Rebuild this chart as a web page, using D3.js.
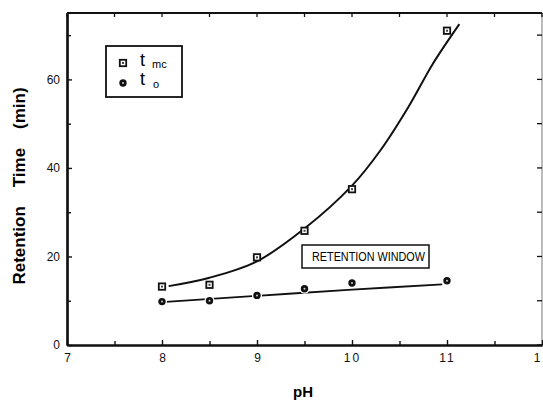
<!DOCTYPE html>
<html>
<head>
<meta charset="utf-8">
<script src="https://cdn.jsdelivr.net/npm/d3@7"></script>
<style>
  body { margin: 0; background: #fff; }
  svg { font-family: "Liberation Sans", Arial, sans-serif; }
</style>
</head>
<body>
<div id="chart"></div>
<script>
// measured points
const pH = [8.0, 8.5, 9.0, 9.5, 10.0, 11.0];
const tmc = [13.2, 13.6, 19.8, 25.8, 35.2, 71.0];
const t0 = [9.8, 10.0, 11.2, 12.7, 14.0, 14.5];

// hand-drawn fit curves
const tmcFitPH = [8.07, 8.5, 9.0, 9.5, 10.0, 10.3, 10.6, 10.85, 11.13];
const tmcFitTime = [13.3, 15.2, 18.9, 26.3, 36.0, 44.0, 54.0, 63.5, 72.5];
const t0FitPH = [8.0, 9.0, 10.0, 10.95];
const t0FitTime = [9.7, 11.1, 12.5, 13.7];

const xTicks = [7, 8, 9, 10, 11, 12];
const yTicks = [0, 20, 40, 60];
const xMinor = [7.5, 8.5, 9.5, 10.5, 11.5];
const yMinor = [10, 30, 50, 70];

// ---------------------------------------
// svg params
const W = 543, H = 401;
const svg = d3.select("#chart").append("svg")
    .attr("width", W)
    .attr("height", H);

const x = d3.scaleLinear().domain([7, 12]).range([67, 542]);
const y = d3.scaleLinear().domain([0, 75]).range([345, 13]);

// frame: top and right edges
svg.append("line")
    .attr("x1", x(7)).attr("x2", x(12))
    .attr("y1", y(75)).attr("y2", y(75))
    .attr("stroke", "#111").attr("stroke-width", 1.8);
svg.append("line")
    .attr("x1", x(12)).attr("x2", x(12))
    .attr("y1", y(75)).attr("y2", y(0))
    .attr("stroke", "#777").attr("stroke-width", 1);

// top / right inward ticks
svg.selectAll(".ttick")
    .data(xTicks.concat(xMinor))
    .enter().append("line")
    .attr("x1", (d) => x(d)).attr("x2", (d) => x(d))
    .attr("y1", y(75)).attr("y2", y(75) + 4)
    .attr("stroke", "#111").attr("stroke-width", 1.3);
svg.selectAll(".rtick")
    .data(yTicks.concat(yMinor))
    .enter().append("line")
    .attr("x1", x(12) - 5).attr("x2", x(12))
    .attr("y1", (d) => y(d)).attr("y2", (d) => y(d))
    .attr("stroke", "#111").attr("stroke-width", 1.3);

// bottom axis
const xAxis = svg.append("g")
    .attr("transform", `translate(0,${y(0)})`)
    .call(d3.axisBottom(x).tickValues(xTicks).tickFormat(d3.format("d"))
        .tickSizeInner(-5).tickSizeOuter(0).tickPadding(8));
xAxis.selectAll(".tick")
    .filter((d) => d >= 10)
    .select("text").attr("letter-spacing", 2);
svg.append("g")
    .attr("transform", `translate(0,${y(0)})`)
    .call(d3.axisBottom(x).tickValues(xMinor).tickFormat("")
        .tickSizeInner(-4).tickSizeOuter(0));

// left axis
svg.append("g")
    .attr("transform", `translate(${x(7)},0)`)
    .call(d3.axisLeft(y).tickValues(yTicks).tickFormat(d3.format("d"))
        .tickSizeInner(-5).tickSizeOuter(0).tickPadding(7));
svg.append("g")
    .attr("transform", `translate(${x(7)},0)`)
    .call(d3.axisLeft(y).tickValues(yMinor).tickFormat("")
        .tickSizeInner(-4).tickSizeOuter(0));

svg.selectAll(".domain").attr("stroke", "#111").attr("stroke-width", 2.2);
svg.selectAll(".tick line").attr("stroke", "#111").attr("stroke-width", 1.4);
svg.selectAll(".tick text")
    .attr("font-size", 12).attr("fill", "#111")
    .attr("font-family", "Liberation Sans, Arial, sans-serif");

// axis titles
svg.append("text")
    .attr("transform", "translate(25,186) rotate(-90)")
    .attr("text-anchor", "middle")
    .attr("font-size", 17).attr("font-weight", "bold")
    .style("white-space", "pre")
    .text("Retention    Time    (min)");
svg.append("text")
    .attr("x", 303).attr("y", 397)
    .attr("text-anchor", "middle")
    .attr("font-size", 15).attr("font-weight", "bold")
    .text("pH");

// ---------------------------------------
// fit curves
const line = d3.line()
    .x((d) => x(d[0]))
    .y((d) => y(d[1]))
    .curve(d3.curveCatmullRom);

svg.append("path")
    .datum(d3.zip(tmcFitPH, tmcFitTime))
    .attr("d", line)
    .attr("fill", "none").attr("stroke", "#111").attr("stroke-width", 2);
svg.append("path")
    .datum(d3.zip(t0FitPH, t0FitTime))
    .attr("d", line)
    .attr("fill", "none").attr("stroke", "#111").attr("stroke-width", 1.8);

// markers
function square(g, cx, cy) {
  g.append("rect")
      .attr("x", cx - 3.2).attr("y", cy - 3.2)
      .attr("width", 6.4).attr("height", 6.4)
      .attr("fill", "#fff").attr("stroke", "#111").attr("stroke-width", 1.8);
  g.append("rect")
      .attr("x", cx - 1).attr("y", cy - 1)
      .attr("width", 2).attr("height", 2)
      .attr("fill", "#444");
}
function dot(g, cx, cy) {
  g.append("circle")
      .attr("cx", cx).attr("cy", cy).attr("r", 5)
      .attr("fill", "#fff");
  g.append("circle")
      .attr("cx", cx).attr("cy", cy).attr("r", 3.7)
      .attr("fill", "#111");
  g.append("circle")
      .attr("cx", cx).attr("cy", cy).attr("r", 1)
      .attr("fill", "#ccc");
}

const marks = svg.append("g");
pH.forEach((p, i) => {
  square(marks, x(p), y(tmc[i]));
  dot(marks, x(p), y(t0[i]));
});

// legend
svg.append("rect")
    .attr("x", 106).attr("y", 46).attr("width", 76).attr("height", 51)
    .attr("fill", "#fff").attr("stroke", "#111").attr("stroke-width", 1.8);
square(svg, 123, 63);
dot(svg, 123, 83);
svg.append("text").attr("x", 140).attr("y", 66)
    .attr("font-size", 18).text("t");
svg.append("text").attr("x", 152).attr("y", 68)
    .attr("font-size", 11).text("mc");
svg.append("text").attr("x", 140).attr("y", 85)
    .attr("font-size", 18).text("t");
svg.append("text").attr("x", 153).attr("y", 88)
    .attr("font-size", 11).text("o");

// retention window label
svg.append("rect")
    .attr("x", 302).attr("y", 245).attr("width", 127).attr("height", 23)
    .attr("fill", "#fff").attr("stroke", "#111").attr("stroke-width", 1.5);
svg.append("text")
    .attr("x", 312).attr("y", 261)
    .attr("font-size", 12)
    .attr("textLength", 113).attr("lengthAdjust", "spacingAndGlyphs")
    .text("RETENTION WINDOW");
</script>
</body>
</html>
